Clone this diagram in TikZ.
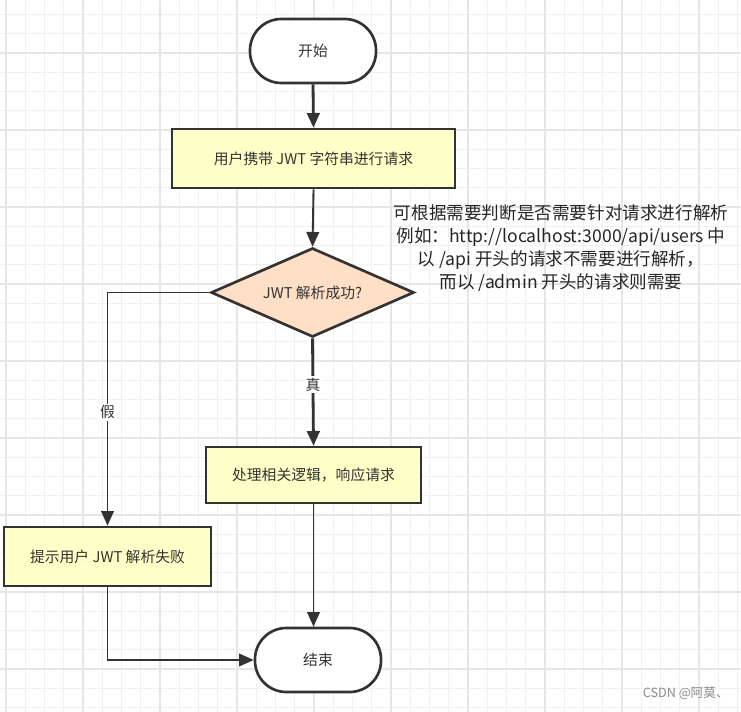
\documentclass[tikz,border=0pt]{standalone}
\usepackage{fontspec}
\newfontfamily\cjk{Noto Sans CJK SC}
\usetikzlibrary{arrows.meta,shapes.geometric}
\definecolor{ink}{HTML}{333333}
\definecolor{boxfill}{HTML}{FFFFC8}
\definecolor{decfill}{HTML}{FFE0C6}
\definecolor{gridminor}{HTML}{F1F1F1}
\definecolor{gridmajor}{HTML}{E6E6E6}
\tikzset{
  base/.style={draw=ink, line width=2pt, font=\cjk\fontsize{11.1}{13}\selectfont, text=ink, inner sep=0pt},
  term/.style={base, fill=white, rounded corners=23.5pt},
  procbox/.style={base, fill=boxfill},
  decide/.style={base, diamond, fill=decfill, aspect=2.28},
  conn/.style={draw=ink, line width=1.4pt, -{Triangle[length=11pt,width=9.5pt]}},
  thickconn/.style={conn, line width=2.1pt},
  lbl/.style={fill=white, inner sep=1.5pt, font=\cjk\fontsize{11.1}{13}\selectfont, text=ink},
}
\begin{document}
\begin{tikzpicture}[x=0.75pt, y=-0.75pt]
\useasboundingbox (0,0) rectangle (741,712);
\fill[white] (0,0) rectangle (741,712);
% grid
\foreach \i in {0,...,38} {
  \pgfmathsetmacro{\gx}{6+19.25*(\i-0)}
  \draw[gridminor, line width=0.8pt] (\gx,0) -- (\gx,712);
}
\foreach \i in {-1,...,37} {
  \pgfmathsetmacro{\gy}{14.5+19.25*\i}
  \draw[gridminor, line width=0.8pt] (0,\gy) -- (741,\gy);
}
\foreach \i in {0,...,9} {
  \pgfmathsetmacro{\gx}{6+77*\i}
  \draw[gridmajor, line width=0.9pt] (\gx,0) -- (\gx,712);
}
\foreach \i in {-1,...,9} {
  \pgfmathsetmacro{\gy}{53+77*\i}
  \draw[gridmajor, line width=0.9pt] (0,\gy) -- (741,\gy);
}
% nodes
\node[term, minimum width=94.5pt, minimum height=48pt] (start) at (313,51) {开始};
\node[procbox, minimum width=212.25pt, minimum height=44.25pt] (req) at (313.5,158.5) {用户携带 JWT 字符串进行请求};
\node[decide, minimum width=152.25pt, minimum height=66.75pt] (dec) at (312.5,292.5) {JWT 解析成功?};
\node[procbox, minimum width=161.25pt, minimum height=42pt] (ok) at (313.5,475) {处理相关逻辑，响应请求};
\node[procbox, minimum width=155.25pt, minimum height=44.25pt] (fail) at (107.5,556.5) {提示用户 JWT 解析失败};
\node[term, minimum width=94.5pt, minimum height=48pt] (end) at (318,660) {结束};
% annotation
\node[font=\cjk\fontsize{13.2}{17.25}\selectfont, text=black!85, align=center, inner sep=0pt] (note) at (561,248)
  {可根据需要判断是否需要针对请求进行解析\\例如：http://localhost:3000/api/users 中\\以 /api 开头的请求不需要进行解析，\\而以 /admin 开头的请求则需要};
% watermark
\node[font=\cjk\fontsize{9.5}{11}\selectfont, text=black!45, anchor=east, inner sep=0pt] (wm) at (729,693) {CSDN @阿莫、};
% connectors
\draw[thickconn] (start.south) -- (req.north);
\draw[conn] (req.south) -- (dec.north);
\draw[conn] (dec.west) -| node[lbl, pos=0.757] {假} (fail.north);
\draw[thickconn] (dec.south) -- node[lbl, pos=0.43] {真} (ok.north);
\draw[conn] (ok.south) -- (ok.south |- end.north);
\draw[conn] (fail.south) |- (end.west);
\end{tikzpicture}
\end{document}
